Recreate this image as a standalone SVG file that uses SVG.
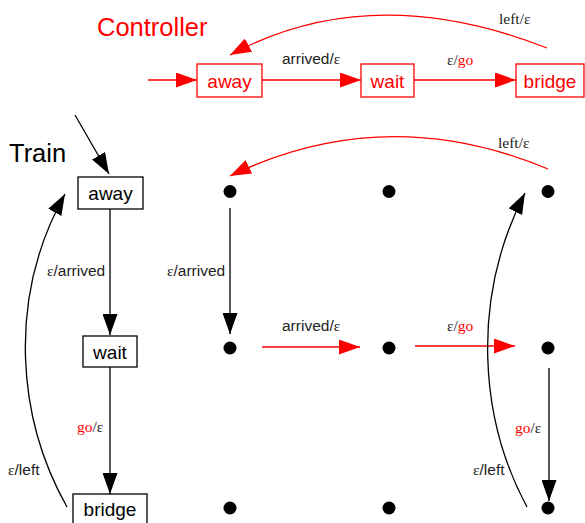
<svg xmlns="http://www.w3.org/2000/svg" width="585" height="523" viewBox="0 0 585 523">
<style>
.big{font-family:"Liberation Sans",Arial,sans-serif;font-size:25.5px}
.nd{font-family:"Liberation Sans",Arial,sans-serif;font-size:19px;text-anchor:middle}
.lb{font-family:"Liberation Sans",Arial,sans-serif;font-size:15.5px;fill:#222}
.sr{font-family:"Liberation Serif","Times New Roman",serif}
.red{fill:#ff0000}
.rbox{fill:#fff;stroke:#ff0000;stroke-width:1.3}
.kbox{fill:#fff;stroke:#000;stroke-width:1.3}
.rl{fill:none;stroke:#ff0000;stroke-width:1.3}
.kl{fill:none;stroke:#000;stroke-width:1.3}
.dot{fill:#000}
</style>
<defs>
<marker id="ar" markerUnits="userSpaceOnUse" markerWidth="21" markerHeight="15" refX="21" refY="7.5" orient="auto">
<path d="M0,0 L21,7.5 L0,15 z" fill="#ff0000"/>
</marker>
<marker id="ak" markerUnits="userSpaceOnUse" markerWidth="21" markerHeight="15" refX="21" refY="7.5" orient="auto">
<path d="M0,0 L21,7.5 L0,15 z" fill="#000"/>
</marker>
</defs>
<rect width="585" height="523" fill="#fff"/>

<text class="big red" x="97" y="36">Controller</text>
<text class="big" x="9" y="162">Train</text>

<g id="connectors">
<path class="rl" d="M148,80 L197,80" marker-end="url(#ar)"/>
<path class="rl" d="M262,80 L361,80" marker-end="url(#ar)"/>
<path class="rl" d="M414,80 L516,80" marker-end="url(#ar)"/>
<path class="rl" d="M547,48 Q371,-21 230,55" marker-end="url(#ar)"/>
<path class="kl" d="M75,115 L109,174" marker-end="url(#ak)"/>
<path class="kl" d="M110,209 L110,335" marker-end="url(#ak)"/>
<path class="kl" d="M110,367 L110,494" marker-end="url(#ak)"/>
<path class="kl" d="M67,507 C18,420 6,300 65,194" marker-end="url(#ak)"/>
<path class="rl" d="M548,169 Q385,101 230,176" marker-end="url(#ar)"/>
<path class="kl" d="M230,208 L230,334" marker-end="url(#ak)"/>
<path class="rl" d="M262,347 L360,347" marker-end="url(#ar)"/>
<path class="rl" d="M415,346 L515,346" marker-end="url(#ar)"/>
<path class="kl" d="M549,368 L549,501" marker-end="url(#ak)"/>
<path class="kl" d="M527,507 C480,420 470,300 525,193" marker-end="url(#ak)"/>
</g>

<g id="labels">
<text class="lb" x="282" y="64">arrived/<tspan class="sr">ε</tspan></text>
<text class="lb sr" x="447" y="65">ε/<tspan class="red">go</tspan></text>
<text class="lb sr" x="499" y="24">left/ε</text>

<text class="lb" x="47" y="276"><tspan class="sr">ε</tspan>/arrived</text>
<text class="lb sr" x="77" y="432"><tspan class="red">go</tspan>/ε</text>
<text class="lb" x="8" y="475"><tspan class="sr">ε</tspan>/left</text>

<text class="lb sr" x="498" y="148">left/ε</text>
<text class="lb" x="167" y="276"><tspan class="sr">ε</tspan>/arrived</text>
<text class="lb" x="282" y="331">arrived/<tspan class="sr">ε</tspan></text>
<text class="lb sr" x="447" y="331">ε/<tspan class="red">go</tspan></text>
<text class="lb sr" x="515" y="433"><tspan class="red">go</tspan>/ε</text>
<text class="lb" x="473" y="475"><tspan class="sr">ε</tspan>/left</text>
</g>

<g id="c-away"><rect class="rbox" x="197" y="64" width="65" height="33"/><text class="nd red" x="229.5" y="87.5">away</text></g>
<g id="c-wait"><rect class="rbox" x="361" y="64" width="53" height="33"/><text class="nd red" x="387.5" y="87.5">wait</text></g>
<g id="c-bridge"><rect class="rbox" x="516" y="64" width="68" height="33"/><text class="nd red" x="550" y="87.5">bridge</text></g>

<g id="t-away"><rect class="kbox" x="78" y="177" width="65" height="32"/><text class="nd" x="110.5" y="200">away</text></g>
<g id="t-wait"><rect class="kbox" x="83" y="336" width="54" height="31"/><text class="nd" x="110" y="358.5">wait</text></g>
<g id="t-bridge"><rect class="kbox" x="73" y="494" width="74" height="34"/><text class="nd" x="110" y="516">bridge</text></g>

<g id="p-aa"><circle class="dot" cx="230" cy="191.5" r="6.5"/></g>
<g id="p-wa"><circle class="dot" cx="389" cy="191.5" r="6.5"/></g>
<g id="p-ba"><circle class="dot" cx="548" cy="191.5" r="6.5"/></g>
<g id="p-aw"><circle class="dot" cx="230" cy="348" r="6.5"/></g>
<g id="p-ww"><circle class="dot" cx="389" cy="348" r="6.5"/></g>
<g id="p-bw"><circle class="dot" cx="548" cy="348" r="6.5"/></g>
<g id="p-ab"><circle class="dot" cx="230" cy="508" r="6.5"/></g>
<g id="p-wb"><circle class="dot" cx="389" cy="508" r="6.5"/></g>
<g id="p-bb"><circle class="dot" cx="548" cy="508" r="6.5"/></g>
</svg>
